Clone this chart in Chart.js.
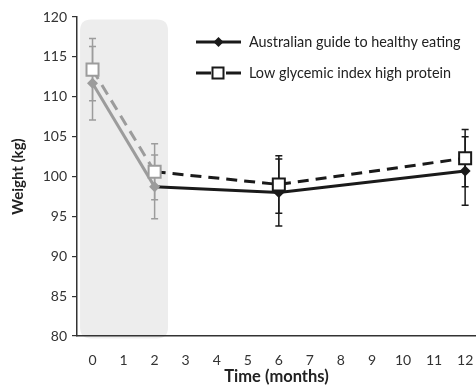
<!DOCTYPE html>
<html>
<head>
<meta charset="utf-8">
<script src="https://cdn.jsdelivr.net/npm/chart.js@4.4.1/dist/chart.umd.min.js"></script>
<style>
  html, body { margin: 0; padding: 0; background: #ffffff; }
  #wrap { width: 476px; height: 385px; }
</style>
</head>
<body>
<div id="wrap"><canvas id="c" width="476" height="385"></canvas></div>
<script>
// ---- data ----
const months = [0, 2, 6, 12];
const seriesNames = ['Australian guide to healthy eating', 'Low glycemic index high protein'];
const agheMean = [111.7, 98.7, 98.0, 100.7];
const agheErr  = [4.6, 4.0, 4.2, 4.3];
const lgihpMean = [113.4, 100.6, 99.0, 102.3];
const lgihpErr  = [3.9, 3.5, 3.6, 3.6];
const xTicks = [0, 1, 2, 3, 4, 5, 6, 7, 8, 9, 10, 11, 12];
const yTicks = [80, 85, 90, 95, 100, 105, 110, 115, 120];
const shadeFrom = -0.4, shadeTo = 2.43;   // shaded initial phase (months)

const BLACK = '#1a1a1a';
const GRAY = '#9c9c9c';
const FONT = 'Lato, "Open Sans", sans-serif';

const isEarly = ctx => ctx.dataIndex < 2;

const shadePlugin = {
  id: 'shade',
  beforeDraw(chart) {
    const {ctx, scales: {x, y}} = chart;
    const l = x.getPixelForValue(shadeFrom), r = x.getPixelForValue(shadeTo);
    const t = y.getPixelForValue(119.7), b = y.getPixelForValue(79.7);
    const rad = 11;
    ctx.save();
    ctx.fillStyle = '#ededed';
    ctx.beginPath();
    ctx.moveTo(l + rad, t);
    ctx.lineTo(r - rad, t); ctx.quadraticCurveTo(r, t, r, t + rad);
    ctx.lineTo(r, b - rad); ctx.quadraticCurveTo(r, b, r - rad, b);
    ctx.lineTo(l + rad, b); ctx.quadraticCurveTo(l, b, l, b - rad);
    ctx.lineTo(l, t + rad); ctx.quadraticCurveTo(l, t, l + rad, t);
    ctx.closePath();
    ctx.fill();
    ctx.restore();
  }
};

const errPlugin = {
  id: 'errbars',
  beforeDatasetsDraw(chart) {
    const {ctx, scales: {x, y}} = chart;
    const sets = [[agheMean, agheErr], [lgihpMean, lgihpErr]];
    ctx.save();
    ctx.lineWidth = 1.5;
    sets.forEach(([m, e]) => {
      months.forEach((mo, i) => {
        const px = x.getPixelForValue(mo);
        const top = y.getPixelForValue(m[i] + e[i]);
        const bot = y.getPixelForValue(m[i] - e[i]);
        ctx.strokeStyle = i < 2 ? GRAY : BLACK;
        ctx.beginPath();
        ctx.moveTo(px, top); ctx.lineTo(px, bot);
        ctx.moveTo(px - 3.5, top); ctx.lineTo(px + 3.5, top);
        ctx.moveTo(px - 3.5, bot); ctx.lineTo(px + 3.5, bot);
        ctx.stroke();
      });
    });
    ctx.restore();
  }
};

const legendPlugin = {
  id: 'customLegend',
  afterDraw(chart) {
    const ctx = chart.ctx;
    ctx.save();
    // row 1
    let yy = 42;
    ctx.strokeStyle = BLACK; ctx.lineWidth = 3; ctx.setLineDash([]);
    ctx.beginPath(); ctx.moveTo(196, yy); ctx.lineTo(241, yy); ctx.stroke();
    ctx.fillStyle = BLACK;
    ctx.beginPath();
    ctx.moveTo(218.5, yy - 5); ctx.lineTo(223.5, yy); ctx.lineTo(218.5, yy + 5); ctx.lineTo(213.5, yy);
    ctx.closePath(); ctx.fill();
    // row 2
    yy = 73;
    ctx.beginPath(); ctx.moveTo(196, yy); ctx.lineTo(211, yy); ctx.moveTo(226, yy); ctx.lineTo(241, yy); ctx.stroke();
    ctx.lineWidth = 2;
    ctx.fillStyle = '#ffffff';
    ctx.fillRect(212.5, yy - 5.5, 11, 11);
    ctx.strokeRect(212.5, yy - 5.5, 11, 11);
    // texts
    ctx.fillStyle = '#222';
    ctx.font = '14.4px ' + FONT;
    ctx.textBaseline = 'middle';
    ctx.textAlign = 'left';
    ctx.fillText(seriesNames[0], 249, 42);
    ctx.fillText(seriesNames[1], 249, 73);
    ctx.restore();
  }
};

new Chart(document.getElementById('c'), {
  type: 'line',
  data: {
    datasets: [
      {
        label: seriesNames[0],
        data: months.map((m, i) => ({x: m, y: agheMean[i]})),
        borderWidth: 3,
        borderColor: BLACK,
        segment: { borderColor: s => s.p0DataIndex === 0 ? GRAY : BLACK },
        pointStyle: 'rectRot',
        pointRadius: 5.5,
        pointBorderWidth: 0,
        pointBackgroundColor: c => isEarly(c) ? GRAY : BLACK,
        pointBorderColor: c => isEarly(c) ? GRAY : BLACK,
        fill: false,
        tension: 0,
        order: 1,
        clip: 12
      },
      {
        label: seriesNames[1],
        data: months.map((m, i) => ({x: m, y: lgihpMean[i]})),
        borderWidth: 3,
        borderColor: BLACK,
        borderDash: [11, 7],
        segment: { borderColor: s => s.p0DataIndex === 0 ? GRAY : BLACK },
        pointStyle: 'rect',
        pointRadius: 8.5,
        pointBorderWidth: 2,
        pointBackgroundColor: '#ffffff',
        pointBorderColor: c => isEarly(c) ? GRAY : BLACK,
        fill: false,
        tension: 0,
        order: 0,
        clip: 12
      }
    ]
  },
  options: {
    responsive: false,
    devicePixelRatio: 1,
    animation: false,
    layout: { autoPadding: false, padding: { top: 17, right: 0, left: 0, bottom: 0 } },
    plugins: { legend: { display: false }, tooltip: { enabled: false } },
    scales: {
      x: {
        type: 'linear',
        min: -0.5,
        max: 12.35,
        afterBuildTicks: s => { s.ticks = xTicks.map(v => ({value: v})); },
        afterFit: s => { s.height = 49; s.paddingLeft = 0; s.paddingRight = 0; },
        grid: { display: false },
        border: { display: true, color: '#333', width: 1.5 },
        ticks: { color: '#333', font: { family: FONT, size: 14 }, padding: 8, maxRotation: 0, autoSkip: false },
        title: { display: true, text: 'Time (months)', color: '#222', font: { family: FONT, size: 16.5, weight: 'bold', lineHeight: 1 }, padding: { top: 0, bottom: 0 } }
      },
      y: {
        min: 80,
        max: 120,
        afterBuildTicks: s => { s.ticks = yTicks.map(v => ({value: v})); },
        afterFit: s => { s.width = 77; s.paddingTop = 0; s.paddingBottom = 0; },
        grid: { display: true, drawOnChartArea: false, drawTicks: true, tickLength: 5, color: '#333', lineWidth: 1.2 },
        border: { display: true, color: '#333', width: 1.5 },
        ticks: { color: '#333', font: { family: FONT, size: 14 }, padding: 5 },
        title: { display: true, text: 'Weight (kg)', color: '#222', font: { family: FONT, size: 15, weight: 'bold' }, padding: { top: 9, bottom: 0 } }
      }
    }
  },
  plugins: [shadePlugin, errPlugin, legendPlugin]
});
</script>
</body>
</html>
